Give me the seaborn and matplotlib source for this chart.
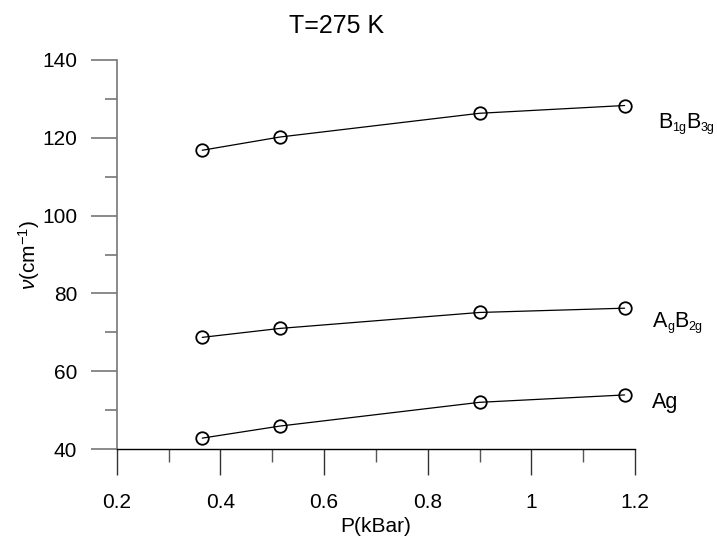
import matplotlib
matplotlib.use('Agg')
import matplotlib.pyplot as plt
from matplotlib.ticker import MultipleLocator, FuncFormatter
from matplotlib.transforms import offset_copy
import seaborn as sns
import pandas as pd

# pressure (kBar) and mode frequencies (cm-1) at T=275 K
pressure = [0.365, 0.515, 0.90, 1.18]
freq_b1g_b3g = [116.8, 120.2, 126.3, 128.3]
freq_ag_b2g = [68.7, 71.0, 75.1, 76.2]
freq_ag = [42.8, 45.9, 52.0, 53.9]

mode_names = ['B1gB3g', 'AgB2g', 'Ag']
# label pieces: (text, is_subscript)
mode_label_parts = [
    [('B', False), ('1g', True), ('B', False), ('3g', True)],
    [('A', False), ('g', True), ('B', False), ('2g', True)],
    [('Ag', False)],
]

sns.set_theme(style='ticks')
plt.rcParams['font.family'] = ['Liberation Sans', 'DejaVu Sans']
plt.rcParams['mathtext.fontset'] = 'custom'
plt.rcParams['mathtext.rm'] = 'Liberation Sans'
plt.rcParams['mathtext.it'] = 'Liberation Sans:italic'
plt.rcParams['text.color'] = 'black'
plt.rcParams['axes.labelcolor'] = 'black'
plt.rcParams['xtick.labelcolor'] = 'black'
plt.rcParams['ytick.labelcolor'] = 'black'

df = pd.DataFrame({
    'P': pressure * 3,
    'nu': freq_b1g_b3g + freq_ag_b2g + freq_ag,
    'mode': [m for m in mode_names for _ in pressure],
})

fig = plt.figure(figsize=(7.17, 5.38), dpi=100)
ax = fig.add_axes([0.1628, 0.1654, 0.8856 - 0.1628, 0.8885 - 0.1654])

for mode in mode_names:
    sns.lineplot(data=df[df['mode'] == mode], x='P', y='nu', ax=ax,
                 color='black', linewidth=0.9, marker='o', markersize=9,
                 markerfacecolor='none', markeredgecolor='black',
                 markeredgewidth=1.3, legend=False)

ax.set_xlim(0.2, 1.2)
ax.set_ylim(40, 140)

# series labels to the right of the last point, built piece by piece
renderer = fig.canvas.get_renderer()
label_pos = [(1.245, 122.5), (1.235, 71.4), (1.2322, 50.5)]
for (lx, ly), parts in zip(label_pos, mode_label_parts):
    dx = 0
    for s, sub in parts:
        tr = offset_copy(ax.transData, fig=fig, x=dx, y=-3 if sub else 0, units='dots')
        t = ax.text(lx, ly, s, transform=tr, fontsize=9 if sub else 15.5,
                    va='baseline', ha='left', clip_on=False)
        dx += t.get_window_extent(renderer).width

ax.xaxis.set_major_locator(MultipleLocator(0.2))
ax.xaxis.set_minor_locator(MultipleLocator(0.1))
ax.yaxis.set_major_locator(MultipleLocator(20))
ax.yaxis.set_minor_locator(MultipleLocator(10))
ax.xaxis.set_major_formatter(FuncFormatter(lambda v, p: f'{v:g}'))

for s in ['top', 'right']:
    ax.spines[s].set_visible(False)
ax.spines['left'].set_color('#777777')
ax.spines['left'].set_linewidth(1.2)
ax.spines['bottom'].set_color('black')
ax.spines['bottom'].set_linewidth(1.0)

ax.tick_params(axis='y', which='major', length=18.5, width=1.2, color='#777777',
               labelsize=15, pad=10, direction='out')
ax.tick_params(axis='y', which='minor', length=9, width=1.2, color='#777777')
ax.tick_params(axis='x', which='major', length=18.5, width=1.0, color='#333333',
               labelsize=15, pad=13, direction='out')
ax.tick_params(axis='x', which='minor', length=9, width=1.0, color='#555555')

ax.set_xlabel('P(kBar)', fontsize=15, labelpad=4)
ax.set_ylabel(r'$\nu$(cm$^{-1}$)', fontsize=15, labelpad=0)

fig.text(337 / 717, 1 - 26 / 538, 'T=275 K', fontsize=18, ha='center', va='center')

fig.savefig('out.png', dpi=100)
